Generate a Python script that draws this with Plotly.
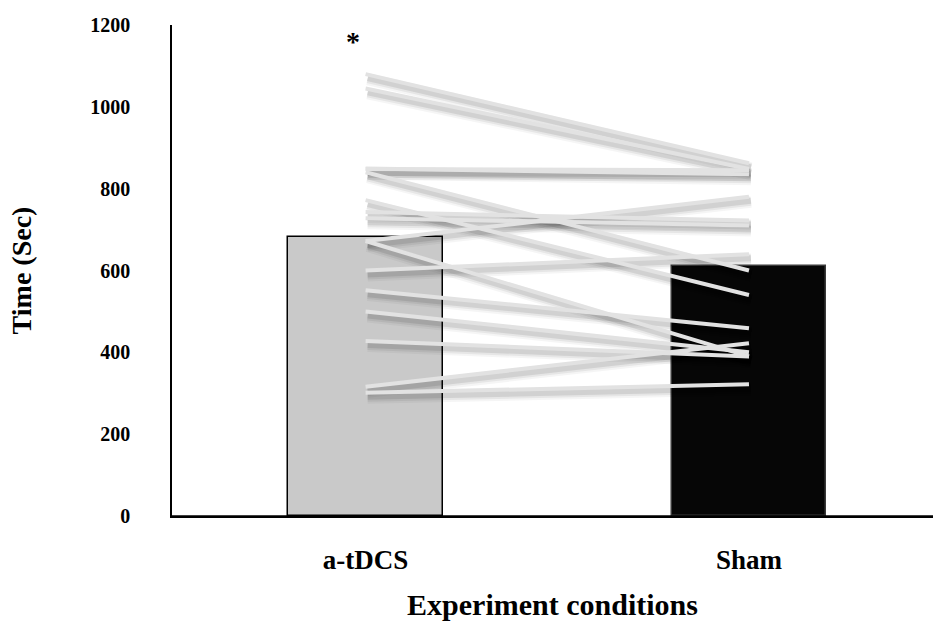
import plotly.graph_objects as go

# Experiment conditions and group means (seconds)
conditions = ["a-tDCS", "Sham"]
mean_time = [683, 610]

# Individual participants: time under each condition (seconds)
atdcs_time = [1080, 1045, 849, 848, 840, 772, 743, 728, 672, 672, 600, 552, 500, 428, 316, 301]
sham_time = [862, 848, 835, 845, 600, 540, 722, 710, 390, 780, 640, 459, 400, 390, 422, 322]

y_ticks = [0, 200, 400, 600, 800, 1000, 1200]

FONT = "Liberation Serif"
W, H = 933, 624
M_L, M_R, M_T, M_B = 172, 0, 25, 108
Y_MAX = 1200
X_RANGE = [-0.505, 1.48]

plot_h = H - M_T - M_B
plot_w = W - M_L - M_R
units_per_px_y = Y_MAX / plot_h
units_per_px_x = (X_RANGE[1] - X_RANGE[0]) / plot_w

fig = go.Figure()

fig.add_trace(go.Bar(
    x=[0, 1], y=mean_time, width=0.404,
    marker=dict(color=["#c9c9c9", "#060606"],
                line=dict(color=["#000000", "#3a3a3a"], width=1.5)),
    hoverinfo="skip", showlegend=False,
))


def paired_path(dx=0.0, dy=0.0):
    xs, ys = [], []
    for a, s in zip(atdcs_time, sham_time):
        xs += [0 + dx, 1 + dx, None]
        ys += [a + dy, s + dy, None]
    return xs, ys


# soft drop shadow beneath each participant line
for width, alpha, off in [(12, 0.04, 5), (9, 0.06, 4.5), (6, 0.09, 4)]:
    sx, sy = paired_path(dx=2 * units_per_px_x, dy=-off * units_per_px_y)
    fig.add_trace(go.Scatter(
        x=sx, y=sy, mode="lines",
        line=dict(color=f"rgba(0,0,0,{alpha})", width=width),
        hoverinfo="skip", showlegend=False,
    ))

lx, ly = paired_path()
fig.add_trace(go.Scatter(
    x=lx, y=ly, mode="lines",
    line=dict(color="#e2e2e2", width=4),
    hoverinfo="skip", showlegend=False,
))

fig.add_annotation(
    x=0, y=1160, xshift=-13, text="*", showarrow=False,
    font=dict(family=FONT, size=28, color="#000000", weight="bold"),
)

# category axis baseline running to the right edge of the figure
fig.add_shape(type="line", xref="paper", yref="y", x0=0, x1=1.05, y0=0, y1=0,
              line=dict(color="#000000", width=1.5), layer="above")

fig.update_layout(
    width=W, height=H,
    margin=dict(l=M_L, r=M_R, t=M_T, b=M_B, pad=0),
    paper_bgcolor="white", plot_bgcolor="white",
    bargap=0,
    xaxis=dict(
        range=X_RANGE, tickmode="array", tickvals=[0, 1], ticktext=conditions,
        showgrid=False, zeroline=False, showline=True,
        linecolor="#000000", linewidth=1.5, ticks="",
        ticklabelstandoff=19,
        tickfont=dict(family=FONT, size=27, color="#000000", weight="bold"),
        title=dict(text="Experiment conditions", standoff=20,
                   font=dict(family=FONT, size=30, color="#000000", weight="bold")),
    ),
    yaxis=dict(
        range=[0, Y_MAX], tickvals=y_ticks,
        showgrid=False, zeroline=False, showline=True,
        linecolor="#000000", linewidth=1.5, ticks="",
        ticklabelstandoff=36,
        tickfont=dict(family=FONT, size=20, color="#000000", weight="bold"),
        title=dict(text="Time (Sec)", standoff=50,
                   font=dict(family=FONT, size=28, color="#000000", weight="bold")),
    ),
)

fig.write_html("out.html")
